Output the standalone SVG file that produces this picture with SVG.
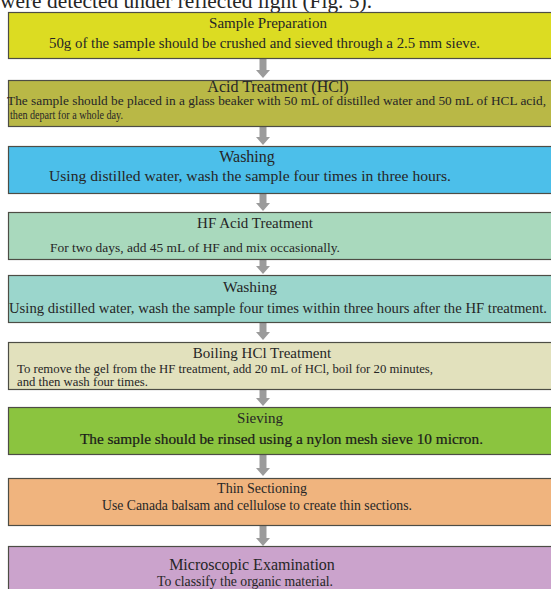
<svg xmlns="http://www.w3.org/2000/svg" width="551" height="589" viewBox="0 0 551 589">
<defs>
<style>
.box{stroke:#4d4d45;stroke-width:1.2}
.t{font-family:"Liberation Serif","Times New Roman",serif;fill:#262626}
.h{text-anchor:middle}
.arr{stroke:#9b9b9b;stroke-width:7;fill:none}
</style>
<marker id="ah" viewBox="0 0 8 14" refX="0" refY="7" markerWidth="8" markerHeight="14" markerUnits="userSpaceOnUse" orient="auto">
<path d="M0,0 L8,7 L0,14 z" fill="#9b9b9b"/>
</marker>
</defs>
<rect width="551" height="589" fill="#ffffff"/>
<text class="t" x="0" y="8" font-size="21.4" textLength="372" lengthAdjust="spacingAndGlyphs" fill="#111">were detected under reflected light (Fig. 5).</text>

<g id="connectors">
<line class="arr" x1="263" y1="58" x2="263" y2="70" marker-end="url(#ah)"/>
<line class="arr" x1="263" y1="127" x2="263" y2="137" marker-end="url(#ah)"/>
<line class="arr" x1="263" y1="193" x2="263" y2="203" marker-end="url(#ah)"/>
<line class="arr" x1="263" y1="259" x2="263" y2="266" marker-end="url(#ah)"/>
<line class="arr" x1="263" y1="322" x2="263" y2="332" marker-end="url(#ah)"/>
<line class="arr" x1="263" y1="389" x2="263" y2="398" marker-end="url(#ah)"/>
<line class="arr" x1="263" y1="454" x2="263" y2="468" marker-end="url(#ah)"/>
<line class="arr" x1="263" y1="525" x2="263" y2="538" marker-end="url(#ah)"/>
</g>

<g id="n1">
<rect class="box" x="8.5" y="12.5" width="546" height="46" fill="#dcdc22"/>
<text class="t h" x="268" y="28" font-size="15">Sample Preparation</text>
<text class="t" x="49" y="48" font-size="14.8" textLength="431" lengthAdjust="spacingAndGlyphs">50g of the sample should be crushed and sieved through a 2.5 mm sieve.</text>
</g>

<g id="n2">
<rect class="box" x="8.5" y="80.5" width="546" height="46" fill="#b9b846"/>
<text class="t h" x="278" y="92" font-size="16">Acid Treatment (HCl)</text>
<text class="t" x="7" y="105" font-size="12.8" textLength="539" lengthAdjust="spacingAndGlyphs">The sample should be placed in a glass beaker with 50 mL of distilled water and 50 mL of HCL acid,</text>
<text class="t" x="10" y="118.5" font-size="11.5" textLength="113" lengthAdjust="spacingAndGlyphs">then depart for a whole day.</text>
</g>

<g id="n3">
<rect class="box" x="8.5" y="146.5" width="546" height="47" fill="#4cbfea"/>
<text class="t h" x="247" y="162" font-size="16">Washing</text>
<text class="t" x="49" y="181" font-size="15.2" textLength="402" lengthAdjust="spacingAndGlyphs">Using distilled water, wash the sample four times in three hours.</text>
</g>

<g id="n4">
<rect class="box" x="8.5" y="212.5" width="546" height="47" fill="#a9d9bd"/>
<text class="t h" x="255" y="228" font-size="15">HF Acid Treatment</text>
<text class="t" x="50" y="252" font-size="13.4" textLength="290" lengthAdjust="spacingAndGlyphs">For two days, add 45 mL of HF and mix occasionally.</text>
</g>

<g id="n5">
<rect class="box" x="8.5" y="275.5" width="546" height="47" fill="#9bd6cc"/>
<text class="t h" x="250" y="292" font-size="15.5">Washing</text>
<text class="t" x="9" y="313" font-size="14.7" textLength="538" lengthAdjust="spacingAndGlyphs">Using distilled water, wash the sample four times within three hours after the HF treatment.</text>
</g>

<g id="n6">
<rect class="box" x="8.5" y="342.5" width="546" height="47" fill="#e2e1bd"/>
<text class="t h" x="262" y="358" font-size="15">Boiling HCl Treatment</text>
<text class="t" x="17" y="373" font-size="12.7" textLength="416" lengthAdjust="spacingAndGlyphs">To remove the gel from the HF treatment, add 20 mL of HCl, boil for 20 minutes,</text>
<text class="t" x="17" y="386" font-size="12.7" textLength="131" lengthAdjust="spacingAndGlyphs">and then wash four times.</text>
</g>

<g id="n7">
<rect class="box" x="8.5" y="407.5" width="546" height="47" fill="#8bc43f"/>
<text class="t h" x="260" y="423" font-size="15">Sieving</text>
<text class="t" x="80" y="444" font-size="15.3" textLength="403" lengthAdjust="spacingAndGlyphs" style="fill:#1a1a1a;stroke:#1a1a1a;stroke-width:0.2">The sample should be rinsed using a nylon mesh sieve 10 micron.</text>
</g>

<g id="n8">
<rect class="box" x="8.5" y="478.5" width="546" height="47" fill="#f0b47e"/>
<text class="t h" x="262" y="493" font-size="14">Thin Sectioning</text>
<text class="t" x="102" y="510" font-size="13.7" textLength="310" lengthAdjust="spacingAndGlyphs">Use Canada balsam and cellulose to create thin sections.</text>
</g>

<g id="n9">
<rect class="box" x="8.5" y="546.5" width="546" height="60" fill="#cba3cc"/>
<text class="t h" x="252" y="570" font-size="16">Microscopic Examination</text>
<text class="t" x="157" y="586" font-size="13.6" textLength="176" lengthAdjust="spacingAndGlyphs">To classify the organic material.</text>
</g>
</svg>
